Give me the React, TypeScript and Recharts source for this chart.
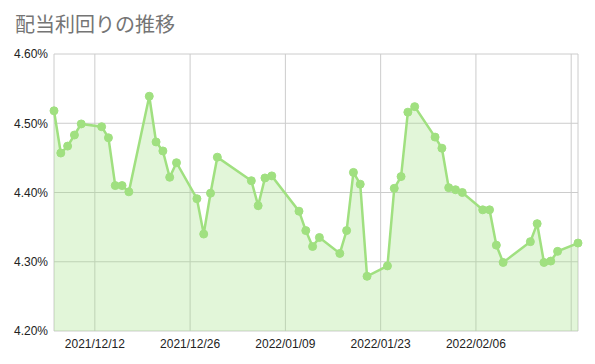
import { AreaChart, Area, XAxis, YAxis, CartesianGrid } from 'recharts';

const GREEN = '#a0e080';
const TITLE = '配当利回りの推移';

const DATES = [
  '2021-12-06','2021-12-07','2021-12-08','2021-12-09','2021-12-10',
  '2021-12-13','2021-12-14','2021-12-15','2021-12-16','2021-12-17',
  '2021-12-20','2021-12-21','2021-12-22','2021-12-23','2021-12-24',
  '2021-12-27','2021-12-28','2021-12-29','2021-12-30',
  '2022-01-04','2022-01-05','2022-01-06','2022-01-07',
  '2022-01-11','2022-01-12','2022-01-13','2022-01-14',
  '2022-01-17','2022-01-18','2022-01-19','2022-01-20','2022-01-21',
  '2022-01-24','2022-01-25','2022-01-26','2022-01-27','2022-01-28',
  '2022-01-31','2022-02-01','2022-02-02','2022-02-03','2022-02-04',
  '2022-02-07','2022-02-08','2022-02-09','2022-02-10',
  '2022-02-14','2022-02-15','2022-02-16','2022-02-17','2022-02-18',
  '2022-02-21',
];
const YIELDS = [
  4.518,4.457,4.467,4.483,4.499,
  4.495,4.479,4.410,4.410,4.401,
  4.539,4.473,4.460,4.422,4.443,
  4.391,4.340,4.399,4.451,
  4.417,4.381,4.421,4.424,
  4.373,4.345,4.322,4.335,
  4.312,4.345,4.429,4.412,4.279,
  4.294,4.406,4.423,4.516,4.524,
  4.480,4.464,4.407,4.404,4.400,
  4.375,4.375,4.324,4.299,
  4.329,4.355,4.299,4.301,4.315,
  4.327,
];
const X_TICKS = ['2021-12-12','2021-12-26','2022-01-09','2022-01-23','2022-02-06','2022-02-20'];
const X_LABELED = ['2021-12-12','2021-12-26','2022-01-09','2022-01-23','2022-02-06'];
const Y_TICKS = [4.2, 4.3, 4.4, 4.5, 4.6];

const toMs = (s: string) => {
  const [y, m, d] = s.split('-').map(Number);
  return Date.UTC(y, m - 1, d);
};
const fmtDate = (t: number) => {
  const d = new Date(t);
  const iso = d.toISOString().slice(0, 10);
  if (!X_LABELED.includes(iso)) return '';
  return iso.replace(/-/g, '/');
};

const data = DATES.map((d, i) => ({ t: toMs(d), v: YIELDS[i] }));

export default function App() {
  return (
    <div style={{ position: 'absolute', left: 0, top: 0, width: 595, height: 364, background: '#fff' }}>
      <div style={{ position: 'absolute', left: 15, top: 12, fontFamily: '"Noto Sans CJK JP", sans-serif', fontSize: 20, lineHeight: '24px', color: '#757575' }}>
        {TITLE}
      </div>
      <AreaChart width={595} height={364} data={data} margin={{ top: 54, right: 17, bottom: 3, left: 0 }}>
        <CartesianGrid stroke="#cccccc" strokeWidth={1} />
        <XAxis
          dataKey="t"
          type="number"
          scale="time"
          domain={['dataMin', 'dataMax']}
          ticks={X_TICKS.map(toMs)}
          tickFormatter={fmtDate}
          height={30}
          tickSize={0}
          tickMargin={8}
          axisLine={false}
          tickLine={false}
          interval={0}
          tick={{ fill: '#222', fontSize: 12, fontFamily: 'Liberation Sans, Arial, sans-serif' }}
        />
        <YAxis
          type="number"
          domain={[4.2, 4.6]}
          ticks={Y_TICKS}
          tickFormatter={(v: number) => v.toFixed(2) + '%'}
          width={54}
          tickSize={0}
          tickMargin={6}
          axisLine={false}
          tickLine={false}
          tick={{ fill: '#222', fontSize: 12, fontFamily: 'Liberation Sans, Arial, sans-serif' }}
        />
        <Area
          type="linear"
          dataKey="v"
          stroke={GREEN}
          strokeWidth={2.5}
          fill={GREEN}
          fillOpacity={0.3}
          dot={{ r: 4, fill: GREEN, stroke: GREEN, strokeWidth: 1, fillOpacity: 1 }}
          activeDot={false}
          isAnimationActive={false}
        />
      </AreaChart>
    </div>
  );
}
